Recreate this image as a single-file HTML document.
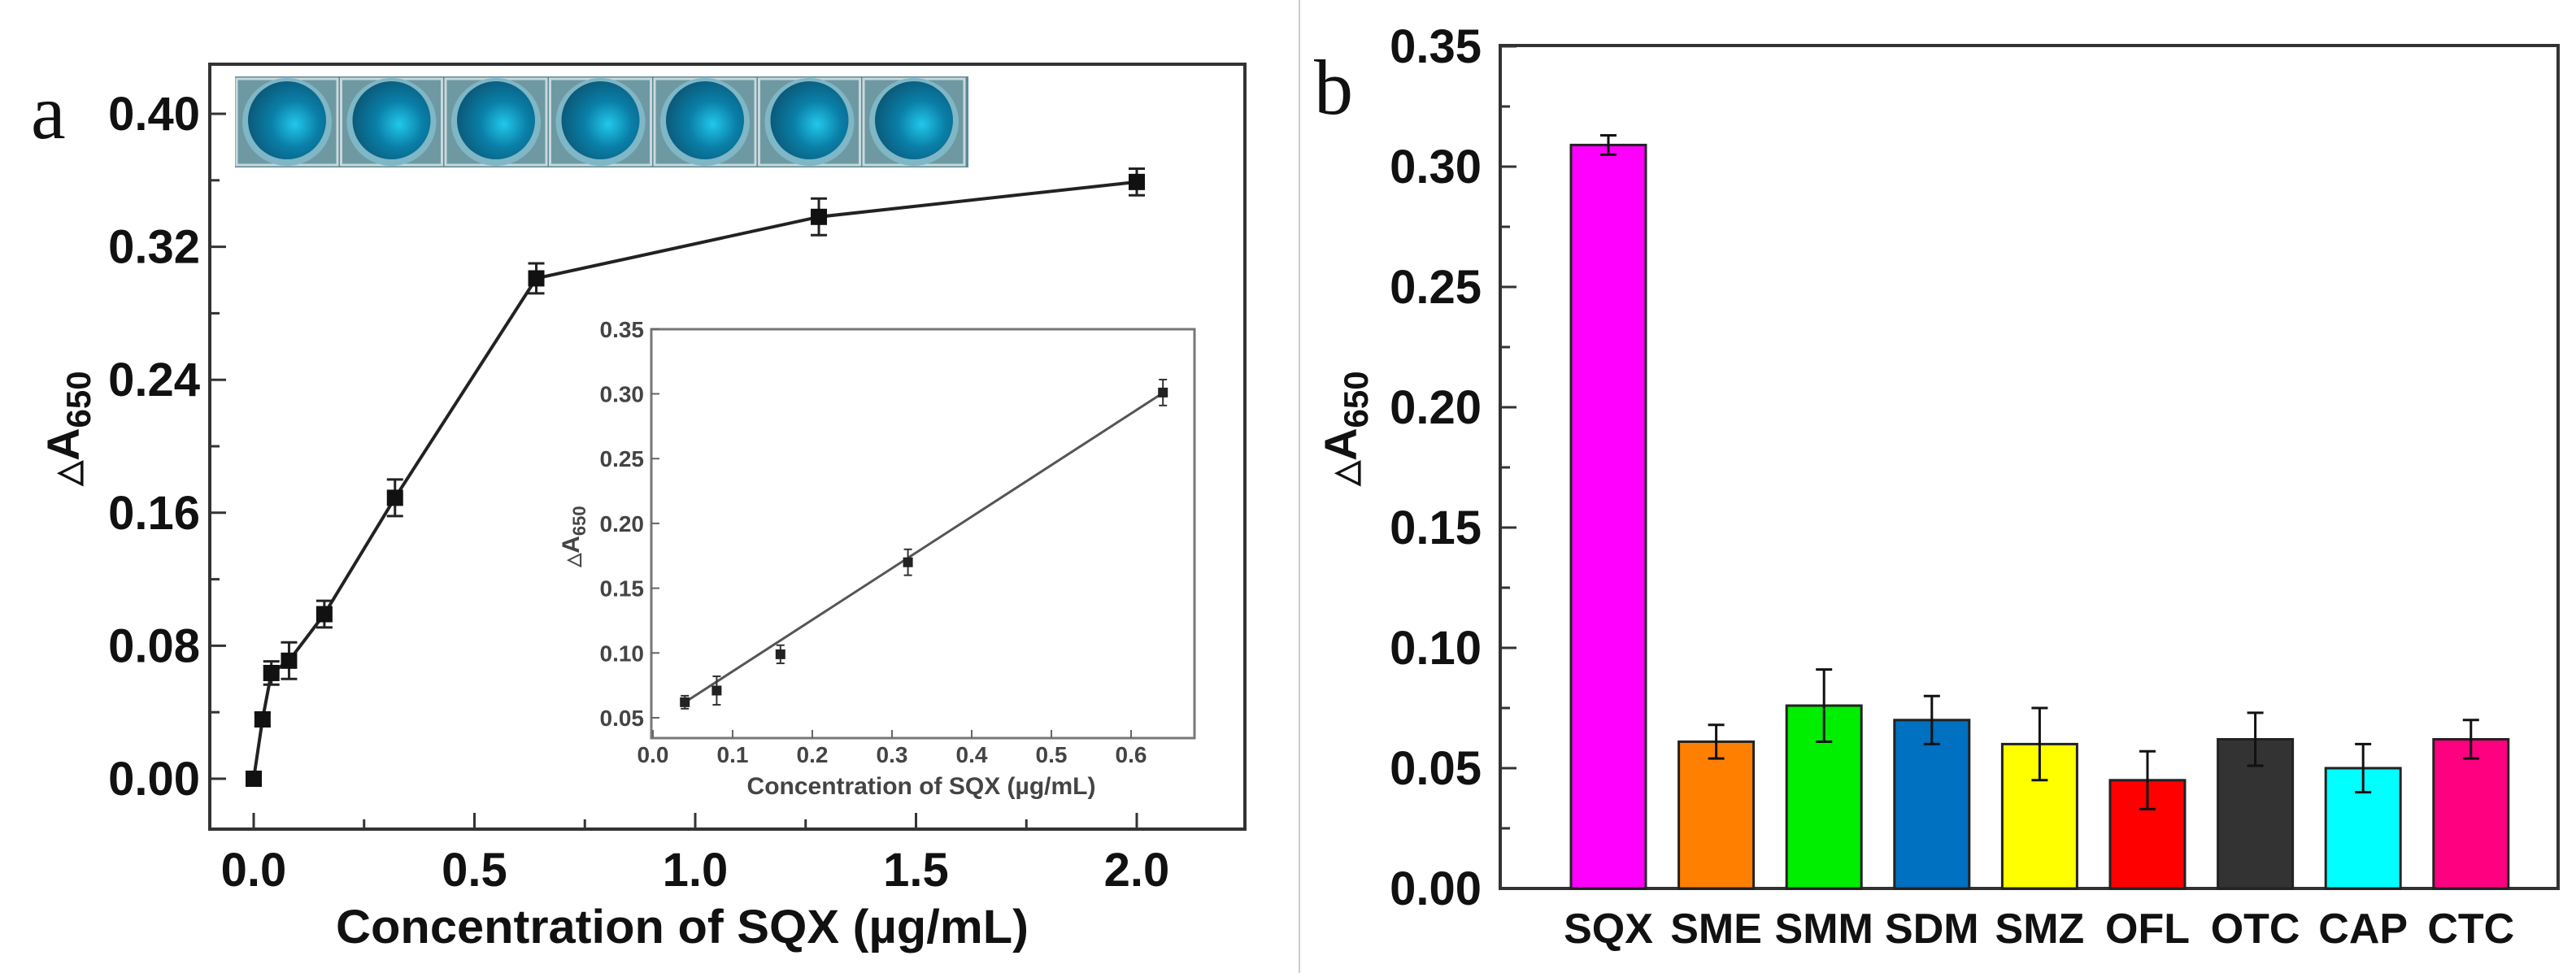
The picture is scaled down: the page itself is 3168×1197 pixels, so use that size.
<!DOCTYPE html>
<html><head><meta charset="utf-8"><style>
html,body{margin:0;padding:0;background:#fff;}
svg{display:block;font-family:"Liberation Sans",Arial,sans-serif;}
</style></head><body>
<svg id="fig" width="3168" height="1197" viewBox="0 0 3168 1197" xmlns="http://www.w3.org/2000/svg">
<defs>
<radialGradient id="well" cx="0.6" cy="0.55" r="0.6">
<stop offset="0" stop-color="#22c8ea"/><stop offset="0.5" stop-color="#0a7fa8"/><stop offset="1" stop-color="#0b5a7a"/>
</radialGradient>
</defs>
<line x1="1598" y1="0" x2="1598" y2="1197" stroke="#ccc" stroke-width="2"/>
<g id="pa"></g>
<g id="pb"></g>
</svg>
<script>
// ---------- Panel a data ----------
const concA = [0, 0.02, 0.04, 0.08, 0.16, 0.32, 0.64, 1.28, 2.0];
const absA = [0, 0.0357, 0.0636, 0.071, 0.099, 0.169, 0.301, 0.338, 0.359];
const errA = [0.002, 0.004, 0.007, 0.011, 0.008, 0.011, 0.009, 0.011, 0.008];
const yTicksA = [0.00, 0.08, 0.16, 0.24, 0.32, 0.40];
const xTicksA = [0.0, 0.5, 1.0, 1.5, 2.0];
// inset
const concIn = [0.04, 0.08, 0.16, 0.32, 0.64];
const absIn = [0.062, 0.071, 0.099, 0.17, 0.301];
const errIn = [0.005, 0.011, 0.007, 0.01, 0.01];
const fitIn = [0.046, 0.398]; // intercept, slope
const yTicksIn = [0.05, 0.10, 0.15, 0.20, 0.25, 0.30, 0.35];
const xTicksIn = [0.0, 0.1, 0.2, 0.3, 0.4, 0.5, 0.6];
// ---------- Panel b data ----------
const cats = ["SQX","SME","SMM","SDM","SMZ","OFL","OTC","CAP","CTC"];
const valsB = [0.309, 0.061, 0.076, 0.070, 0.060, 0.045, 0.062, 0.050, 0.062];
const errB = [0.004, 0.007, 0.015, 0.010, 0.015, 0.012, 0.011, 0.010, 0.008];
const colorsB = ["#ff00ff","#ff8000","#00ee00","#0070c0","#ffff00","#ff0000","#333333","#00ffff","#ff0080"];
const yTicksB = [0.00, 0.05, 0.10, 0.15, 0.20, 0.25, 0.30, 0.35];

const NS = "http://www.w3.org/2000/svg";
function mk(parent, tag, attrs, text){
  const e = document.createElementNS(NS, tag);
  for (const k in attrs) e.setAttribute(k, attrs[k]);
  if (text !== undefined) e.textContent = text;
  parent.appendChild(e);
  return e;
}
const pa = document.getElementById('pa');
const pb = document.getElementById('pb');

// ===== Panel a =====
const ax = v => 312 + v * 543;
const ay = v => 958 - v / 0.08 * 163.6;
let f = mk(pa,'rect',{x:258,y:79,width:1273,height:941,fill:'none',stroke:'#333','stroke-width':4});


// photo strip
const strip = mk(pa,'g',{});


mk(strip,'rect',{x:289,y:94,width:902,height:112,fill:'#5b8a96'});
for (let i=0;i<7;i++){
  const cx = 289 + 64 + i*128.5;
  mk(strip,'rect',{x:cx-62,y:97,width:124,height:106,fill:'#6e99a3',stroke:'#c8d8dc','stroke-width':3});
  mk(strip,'ellipse',{cx:cx,cy:150,rx:55,ry:54,fill:'#7fb7c6'});
  mk(strip,'ellipse',{cx:cx,cy:148,rx:48,ry:48,fill:'url(#well)'});
}
// y ticks
yTicksA.forEach(t=>{
  mk(pa,'line',{x1:258,x2:278,y1:ay(t),y2:ay(t),stroke:'#333','stroke-width':3});
  const l = mk(pa,'text',{x:246,y:ay(t)+20,'text-anchor':'end','font-size':58,'font-weight':'bold',fill:'#111'},t.toFixed(2));
  
  
});
for (let t=0.04;t<0.42;t+=0.08) mk(pa,'line',{x1:258,x2:270,y1:ay(t),y2:ay(t),stroke:'#333','stroke-width':3});
xTicksA.forEach(t=>{
  mk(pa,'line',{x1:ax(t),x2:ax(t),y1:1020,y2:1000,stroke:'#333','stroke-width':3});
  const l = mk(pa,'text',{x:ax(t),y:1090,'text-anchor':'middle','font-size':58,'font-weight':'bold',fill:'#111'},t.toFixed(1));
  
  
});
for (let t=0.25;t<2.1;t+=0.5) mk(pa,'line',{x1:ax(t),x2:ax(t),y1:1020,y2:1008,stroke:'#333','stroke-width':3});
let t1 = mk(pa,'text',{x:839,y:1160,'text-anchor':'middle','font-size':58,'font-weight':'bold',fill:'#111',textLength:852,lengthAdjust:'spacingAndGlyphs'},'Concentration of SQX (µg/mL)');


let yt = mk(pa,'text',{transform:'translate(97,527) rotate(-90)','text-anchor':'middle','font-size':56,'font-weight':'bold',fill:'#111'});


mk(yt,'tspan',{'font-size':40},'△');
mk(yt,'tspan',{},'A');
mk(yt,'tspan',{'font-size':42,dy:14},'650');
let la = mk(pa,'text',{x:38,y:170,'font-size':96,'font-family':'"Liberation Serif",serif',fill:'#111'},'a');


// line + points
let pts = concA.map((c,i)=>ax(c)+','+ay(absA[i])).join(' ');
let ln = mk(pa,'polyline',{points:pts,fill:'none',stroke:'#222','stroke-width':4});


concA.forEach((c,i)=>{
  const x=ax(c), y=ay(absA[i]), e1=ay(absA[i]+errA[i]), e2=ay(absA[i]-errA[i]);
  mk(pa,'line',{x1:x,x2:x,y1:e1,y2:e2,stroke:'#222','stroke-width':3});
  mk(pa,'line',{x1:x-10,x2:x+10,y1:e1,y2:e1,stroke:'#222','stroke-width':3});
  mk(pa,'line',{x1:x-10,x2:x+10,y1:e2,y2:e2,stroke:'#222','stroke-width':3});
  const p = mk(pa,'rect',{x:x-10,y:y-10,width:20,height:20,fill:'#111'});
  
  
});
// ===== Inset =====
const ix = v => 803 + v * 980;
const iy = v => 883 - (v - 0.05) / 0.05 * 79.7;
let inf = mk(pa,'rect',{x:801,y:405,width:668,height:503,fill:'#fff',stroke:'#777','stroke-width':3});


yTicksIn.forEach(t=>{
  mk(pa,'line',{x1:801,x2:811,y1:iy(t),y2:iy(t),stroke:'#666','stroke-width':2});
  const l = mk(pa,'text',{x:792,y:iy(t)+10,'text-anchor':'end','font-size':28,'font-weight':'bold',fill:'#444'},t.toFixed(2));
  
  
});
xTicksIn.forEach(t=>{
  mk(pa,'line',{x1:ix(t),x2:ix(t),y1:908,y2:898,stroke:'#666','stroke-width':2});
  const l = mk(pa,'text',{x:ix(t),y:938,'text-anchor':'middle','font-size':28,'font-weight':'bold',fill:'#444'},t.toFixed(1));
  
  
});
let it = mk(pa,'text',{x:1133,y:977,'text-anchor':'middle','font-size':30,'font-weight':'bold',fill:'#444'},'Concentration of SQX (µg/mL)');


let iyt = mk(pa,'text',{transform:'translate(712,660) rotate(-90)','text-anchor':'middle','font-size':30,'font-weight':'bold',fill:'#444'});


mk(iyt,'tspan',{'font-size':22},'△');
mk(iyt,'tspan',{},'A');
mk(iyt,'tspan',{'font-size':22,dy:8},'650');
const x0=concIn[0], x1=concIn[concIn.length-1];
let fl = mk(pa,'line',{x1:ix(x0),y1:iy(fitIn[0]+fitIn[1]*x0),x2:ix(x1),y2:iy(fitIn[0]+fitIn[1]*x1),stroke:'#555','stroke-width':3});


concIn.forEach((c,i)=>{
  const x=ix(c), y=iy(absIn[i]), e1=iy(absIn[i]+errIn[i]), e2=iy(absIn[i]-errIn[i]);
  mk(pa,'line',{x1:x,x2:x,y1:e1,y2:e2,stroke:'#333','stroke-width':2});
  mk(pa,'line',{x1:x-5,x2:x+5,y1:e1,y2:e1,stroke:'#333','stroke-width':2});
  mk(pa,'line',{x1:x-5,x2:x+5,y1:e2,y2:e2,stroke:'#333','stroke-width':2});
  const p = mk(pa,'rect',{x:x-6,y:y-6,width:12,height:12,fill:'#222'});
  
  
});

// ===== Panel b =====
const by = v => 1093 - v / 0.05 * 148;
const bx = i => 1978 + i * 132.6;
let fb = mk(pb,'rect',{x:1845,y:56,width:1301,height:1037,fill:'none',stroke:'#333','stroke-width':4});


yTicksB.forEach(t=>{
  mk(pb,'line',{x1:1845,x2:1865,y1:by(t),y2:by(t),stroke:'#333','stroke-width':3});
  const l = mk(pb,'text',{x:1822,y:by(t)+20,'text-anchor':'end','font-size':58,'font-weight':'bold',fill:'#111'},t.toFixed(2));
  
  
});
for (let t=0.025;t<0.35;t+=0.05) mk(pb,'line',{x1:1845,x2:1857,y1:by(t),y2:by(t),stroke:'#333','stroke-width':3});
cats.forEach((c,i)=>{
  const x=bx(i), v=valsB[i];
  const b = mk(pb,'rect',{x:x-46,y:by(v),width:92,height:by(0)-by(v),fill:colorsB[i],stroke:'#222','stroke-width':3});
  
  
  const e1=by(v+errB[i]), e2=by(v-errB[i]);
  mk(pb,'line',{x1:x,x2:x,y1:e1,y2:e2,stroke:'#111','stroke-width':3});
  mk(pb,'line',{x1:x-10,x2:x+10,y1:e1,y2:e1,stroke:'#111','stroke-width':3});
  mk(pb,'line',{x1:x-10,x2:x+10,y1:e2,y2:e2,stroke:'#111','stroke-width':3});
  const l = mk(pb,'text',{x:x,y:1160,'text-anchor':'middle','font-size':52,'font-weight':'bold',fill:'#111'},c);
  
  
});
let ybt = mk(pb,'text',{transform:'translate(1668,527) rotate(-90)','text-anchor':'middle','font-size':56,'font-weight':'bold',fill:'#111'});


mk(ybt,'tspan',{'font-size':40},'△');
mk(ybt,'tspan',{},'A');
mk(ybt,'tspan',{'font-size':42,dy:14},'650');
let lb = mk(pb,'text',{x:1616,y:140,'font-size':96,'font-family':'"Liberation Serif",serif',fill:'#111'},'b');


</script>
</body></html>
